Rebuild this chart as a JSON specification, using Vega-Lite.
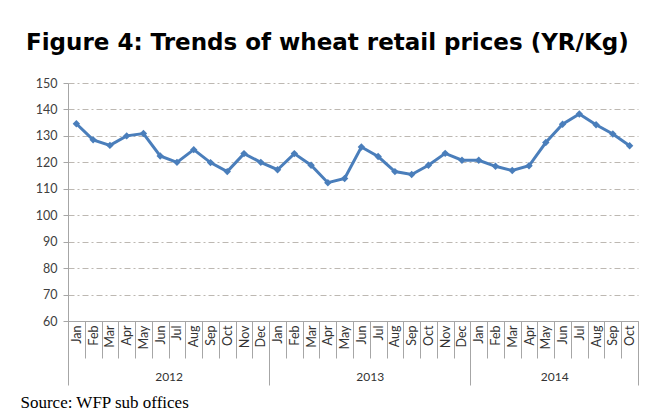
{
  "$schema": "https://vega.github.io/schema/vega-lite/v6.json",
  "width": 570,
  "height": 238,
  "autosize": {"type": "none"},
  "padding": {"left": 68, "top": 83, "right": 11, "bottom": 92},
  "background": "white",
  "title": {
    "text": "Figure 4: Trends of wheat retail prices (YR/Kg)",
    "anchor": "start",
    "frame": "group",
    "font": "DejaVu Sans",
    "fontWeight": "bold",
    "fontSize": 23,
    "color": "#000000",
    "dx": -42,
    "offset": 22
  },
  "config": {
    "view": {"stroke": null},
    "axis": {"labelFont": "Lato", "labelColor": "#404040", "labelFontSize": 12}
  },
  "data": {
    "values": [
      {"i": 0, "year": 2012, "month": "Jan", "price": 134.6},
      {"i": 1, "year": 2012, "month": "Feb", "price": 128.5},
      {"i": 2, "year": 2012, "month": "Mar", "price": 126.4},
      {"i": 3, "year": 2012, "month": "Apr", "price": 130.0},
      {"i": 4, "year": 2012, "month": "May", "price": 130.9},
      {"i": 5, "year": 2012, "month": "Jun", "price": 122.4},
      {"i": 6, "year": 2012, "month": "Jul", "price": 120.0},
      {"i": 7, "year": 2012, "month": "Aug", "price": 124.8},
      {"i": 8, "year": 2012, "month": "Sep", "price": 119.9},
      {"i": 9, "year": 2012, "month": "Oct", "price": 116.5},
      {"i": 10, "year": 2012, "month": "Nov", "price": 123.3},
      {"i": 11, "year": 2012, "month": "Dec", "price": 120.0},
      {"i": 12, "year": 2013, "month": "Jan", "price": 117.2},
      {"i": 13, "year": 2013, "month": "Feb", "price": 123.3},
      {"i": 14, "year": 2013, "month": "Mar", "price": 118.9},
      {"i": 15, "year": 2013, "month": "Apr", "price": 112.3},
      {"i": 16, "year": 2013, "month": "May", "price": 113.9},
      {"i": 17, "year": 2013, "month": "Jun", "price": 125.8},
      {"i": 18, "year": 2013, "month": "Jul", "price": 122.2},
      {"i": 19, "year": 2013, "month": "Aug", "price": 116.5},
      {"i": 20, "year": 2013, "month": "Sep", "price": 115.4},
      {"i": 21, "year": 2013, "month": "Oct", "price": 118.9},
      {"i": 22, "year": 2013, "month": "Nov", "price": 123.4},
      {"i": 23, "year": 2013, "month": "Dec", "price": 120.8},
      {"i": 24, "year": 2014, "month": "Jan", "price": 120.8},
      {"i": 25, "year": 2014, "month": "Feb", "price": 118.5},
      {"i": 26, "year": 2014, "month": "Mar", "price": 116.9},
      {"i": 27, "year": 2014, "month": "Apr", "price": 118.7},
      {"i": 28, "year": 2014, "month": "May", "price": 127.5},
      {"i": 29, "year": 2014, "month": "Jun", "price": 134.4},
      {"i": 30, "year": 2014, "month": "Jul", "price": 138.3},
      {"i": 31, "year": 2014, "month": "Aug", "price": 134.2},
      {"i": 32, "year": 2014, "month": "Sep", "price": 130.7},
      {"i": 33, "year": 2014, "month": "Oct", "price": 126.3}
    ]
  },
  "encoding": {
    "y": {
      "field": "price",
      "type": "quantitative",
      "scale": {"domain": [60, 150], "nice": false, "zero": false},
      "axis": {
        "title": null,
        "values": [60,70,80,90,100,110,120,130,140,150],
        "grid": true,
        "gridColor": "#bdb8b2",
        "gridDash": [6, 3, 2, 3],
        "domainColor": "#a6a6a6",
        "tickColor": "#a6a6a6",
        "tickSize": 5,
        "labelPadding": 6,
        "labelFontSize": 12.5
      }
    }
  },
  "resolve": {"axis": {"x": "independent"}},
  "layer": [
    {
      "mark": {"type": "line", "color": "#4a7ebb", "strokeWidth": 3},
      "encoding": {
        "x": {
          "field": "i",
          "type": "quantitative",
          "scale": {"domain": [-0.5, 33.5], "nice": false, "zero": false},
          "axis": {
            "orient": "bottom",
            "title": null,
            "values": [0,1,2,3,4,5,6,7,8,9,10,11,12,13,14,15,16,17,18,19,20,21,22,23,24,25,26,27,28,29,30,31,32,33],
            "labelExpr": "['Jan','Feb','Mar','Apr','May','Jun','Jul','Aug','Sep','Oct','Nov','Dec'][datum.value % 12]",
            "labelAngle": 270,
            "labelAlign": "right",
            "labelBaseline": "middle",
            "labelPadding": 4,
            "labelFontSize": 12.5,
            "labelColor": "#333333",
            "labelFlush": false,
            "labelOverlap": false,
            "ticks": false,
            "tickSize": 0,
            "grid": false,
            "domain": true,
            "domainColor": "#a6a6a6"
          }
        }
      }
    },
    {
      "mark": {"type": "point", "shape": "diamond", "filled": true, "opacity": 1, "color": "#4a7ebb", "size": 55},
      "encoding": {
        "x": {
          "field": "i",
          "type": "quantitative",
          "axis": {
            "orient": "bottom",
            "title": null,
            "values": [-0.5,0.5,1.5,2.5,3.5,4.5,5.5,6.5,7.5,8.5,9.5,10.5,11.5,12.5,13.5,14.5,15.5,16.5,17.5,18.5,19.5,20.5,21.5,22.5,23.5,24.5,25.5,26.5,27.5,28.5,29.5,30.5,31.5,32.5,33.5],
            "labels": false,
            "domain": false,
            "grid": false,
            "ticks": true,
            "tickSize": 37,
            "tickColor": "#a6a6a6"
          }
        }
      }
    },
    {
      "mark": {"type": "point", "opacity": 0},
      "encoding": {
        "x": {
          "field": "i",
          "type": "quantitative",
          "axis": {
            "orient": "bottom",
            "title": null,
            "values": [-0.5, 11.5, 23.5, 33.5],
            "labels": false,
            "domain": false,
            "grid": false,
            "ticks": true,
            "tickSize": 64,
            "tickColor": "#a6a6a6"
          }
        }
      }
    },
    {
      "mark": {"type": "point", "opacity": 0},
      "encoding": {
        "x": {
          "field": "i",
          "type": "quantitative",
          "axis": {
            "orient": "bottom",
            "values": [5.5, 17.5, 28.5],
            "labelExpr": "datum.value < 12 ? '2012' : datum.value < 24 ? '2013' : '2014'",
            "labelAngle": 0,
            "labelAlign": "center",
            "labelBaseline": "top",
            "labelPadding": 50,
            "labelFontSize": 12,
            "labelColor": "#333333",
            "labelFlush": false,
            "ticks": false,
            "tickSize": 0,
            "domain": false,
            "grid": false,
            "title": "Source: WFP sub offices",
            "titleFont": "Liberation Serif",
            "titleFontSize": 17,
            "titleFontWeight": "normal",
            "titleColor": "#000000",
            "titleAlign": "left",
            "titleAnchor": "start",
            "titleBaseline": "alphabetic",
            "titleX": -48,
            "titleY": 86
          }
        }
      }
    }
  ]
}
